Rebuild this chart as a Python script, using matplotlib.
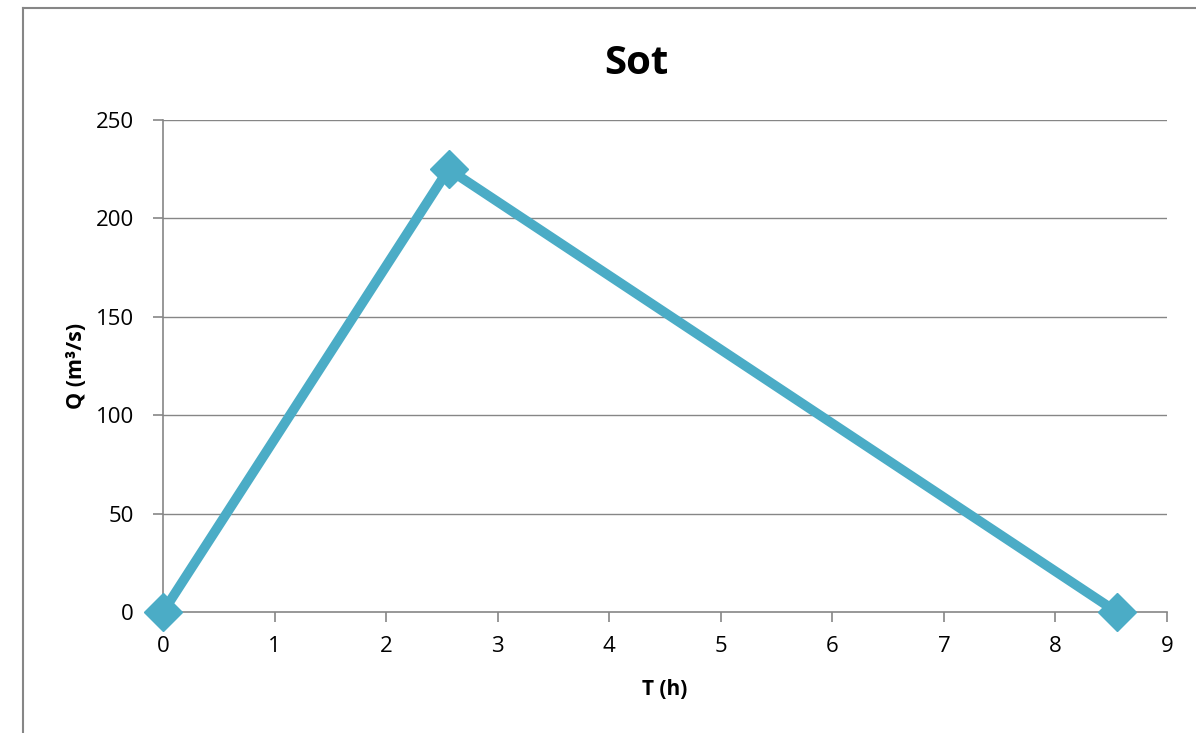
import matplotlib.pyplot as plt
from matplotlib.lines import Line2D

# data
t_h = [0, 2.56, 8.55]
q_m3s = [0, 225, 0]
x_ticks = [0, 1, 2, 3, 4, 5, 6, 7, 8, 9]
y_ticks = [0, 50, 100, 150, 200, 250]

plt.rcParams['font.family'] = ['Open Sans', 'DejaVu Sans']

fig = plt.figure(figsize=(11.96, 7.33), dpi=100)
ax = fig.add_axes([163/1196, 1 - 612/733, (1167-163)/1196, (612-120)/733])

grid_col = "#868686"
for y in y_ticks[1:]:
    ax.axhline(y, color=grid_col, lw=1, zorder=1)

ax.plot(t_h, q_m3s, color="#4BACC6", lw=7, marker="D", markersize=19,
        solid_joinstyle="miter", zorder=3, clip_on=False)

ax.set_xlim(0, 9)
ax.set_ylim(0, 250)
ax.set_xticks(x_ticks)
ax.set_yticks(y_ticks)
ax.tick_params(axis="both", colors=grid_col, labelcolor="black", labelsize=16,
               length=7, width=1.2)
ax.tick_params(axis="x", pad=10)
ax.tick_params(axis="y", pad=14)

for s in ["top", "right"]:
    ax.spines[s].set_visible(False)
for s in ["left", "bottom"]:
    ax.spines[s].set_color(grid_col)
    ax.spines[s].set_linewidth(1.2)

fig.text(636/1196, 1 - 63/733, "Sot", fontsize=29, fontweight="bold",
         ha="center", va="center")
ax.set_xlabel("T (h)", fontsize=15, fontweight="bold", labelpad=16)
ax.set_ylabel("Q (m³/s)", fontsize=15.5, fontweight="bold", labelpad=6)

# outer chart frame (cut off at right and bottom)
x0 = 23/1196
y0 = 1 - 8/733
fig.add_artist(Line2D([x0, x0], [0, y0], color=grid_col, lw=1.5, transform=fig.transFigure))
fig.add_artist(Line2D([x0, 1], [y0, y0], color=grid_col, lw=1.5, transform=fig.transFigure))

fig.savefig("out.png", dpi=100)
